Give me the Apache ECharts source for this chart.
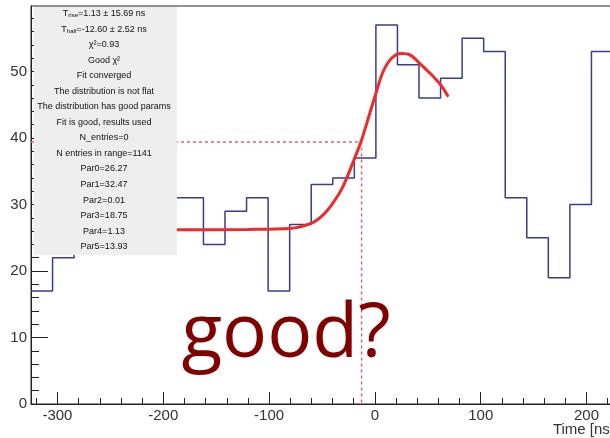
<!DOCTYPE html>
<html><head><meta charset="utf-8">
<script src="https://cdn.jsdelivr.net/npm/echarts@6/dist/echarts.min.js"></script>
<style>html,body{margin:0;padding:0;background:#fff}#c{width:610px;height:438px}</style>
</head><body><div id="c"></div>
<script>
// ---- data ----
const histLow = -325, histHigh = 225;
const binCounts = [17,22,27,25,29,26,31,31,24,29,31,17,27,33,34,37,57,51,46,49,55,53,31,25,19,30,53];
const fitTime  = [-300,-250,-185,-120,-80.3,-59.8,-49.1,-39.7,-30.2,-19.8,-12.6,-4.7,0.9,7.8,15.8,25.2,33.1,42.5,53.6,63.0,69.3];
const fitValue = [26.2,26.2,26.2,26.25,26.4,27.2,28.4,30.2,32.7,36.7,39.7,43.8,46.7,50.0,52.0,52.7,52.5,51.2,49.5,47.8,46.2];
const tHalf = -12.6, halfLevel = 39.4;
const xMajorTicks = [-300,-200,-100,0,100,200];
const yMajorTicks = [0,10,20,30,40,50];
const yMax = 59.85;
const statLines = [
  '{n|T}{s|rise}{n|=1.13 ± 15.69 ns}',
  '{n|T}{s|half}{n|=-12.60 ± 2.52 ns}',
  'χ²=0.93',
  'Good χ²',
  'Fit converged',
  'The distribution is not flat',
  'The distribution has good params',
  'Fit is good, results used',
  'N_entries=0',
  'N entries in range=1141',
  'Par0=26.27',
  'Par1=32.47',
  'Par2=0.01',
  'Par3=18.75',
  'Par4=1.13',
  'Par5=13.93'
];
const annotation = 'good?';
const xTitle = 'Time [ns]';

// ---- build ----
const nBins = binCounts.length;
const bw = (histHigh - histLow) / nBins;
const histData = binCounts.map((c, i) => [histLow + i * bw, c]);
histData.push([histHigh, binCounts[nBins - 1]]);
const fitData = fitTime.map((t, i) => [t, fitValue[i]]);
const xMinor = []; for (let v = -320; v <= 220; v += 20) xMinor.push(v);
const yMinor = []; for (let v = 0; v <= 58; v += 2) yMinor.push(v);

const axisCol = '#222';
const lblFont = {color: '#333', fontSize: 15, fontFamily: 'Liberation Sans'};

const graphics = [{
  type: 'rect', z: 100, shape: {x: 34, y: 7, width: 143, height: 248},
  style: {fill: '#eeeeee'}
}];
statLines.forEach((s, i) => {
  graphics.push({
    type: 'text', z: 101, x: 104, y: 13.5 + 15.55 * i,
    style: {
      text: s, fill: '#111', fontSize: 9, fontFamily: 'Liberation Sans',
      align: 'center', verticalAlign: 'middle', textAlign: 'center', textVerticalAlign: 'middle',
      rich: {
        n: {fontSize: 9, fontFamily: 'Liberation Sans', fill: '#111', lineHeight: 10},
        s: {fontSize: 6, fontFamily: 'Liberation Sans', fill: '#111', lineHeight: 6, padding: [4, 0, 0, 0]}
      }
    }
  });
});
graphics.push({
  type: 'text', z: 102, x: 286, y: 336,
  style: {text: annotation, fill: '#800000', fontSize: 75, fontFamily: 'Open Sans',
    align: 'center', verticalAlign: 'middle', textAlign: 'center', textVerticalAlign: 'middle'}
});
graphics.push({
  type: 'text', z: 102, x: 614, y: 430,
  style: {text: xTitle, fill: '#333', fontSize: 15, fontFamily: 'Liberation Sans',
    align: 'right', verticalAlign: 'middle', textAlign: 'right', textVerticalAlign: 'middle'}
});

const chart = echarts.init(document.getElementById('c'), null, {renderer: 'canvas'});
chart.setOption({
  animation: false,
  backgroundColor: '#ffffff',
  grid: {left: 31, right: -3, top: 6, bottom: 34, show: true, borderColor: axisCol, borderWidth: 1,
    containLabel: false, outerBoundsMode: 'none'},
  xAxis: [{
    type: 'value', min: histLow, max: histHigh, position: 'bottom',
    axisLine: {show: true, onZero: false, lineStyle: {color: axisCol, width: 1}},
    axisTick: {show: true, inside: true, length: 12, customValues: xMajorTicks, lineStyle: {color: axisCol}},
    axisLabel: Object.assign({customValues: xMajorTicks, margin: 4}, lblFont),
    splitLine: {show: false}
  }, {
    type: 'value', min: histLow, max: histHigh, position: 'bottom',
    axisLine: {show: false, onZero: false},
    axisTick: {show: true, inside: true, length: 6, customValues: xMinor, lineStyle: {color: axisCol}},
    axisLabel: {show: false}, splitLine: {show: false}
  }],
  yAxis: [{
    type: 'value', min: 0, max: yMax, position: 'left',
    axisLine: {show: true, onZero: false, lineStyle: {color: axisCol, width: 1}},
    axisTick: {show: true, inside: true, length: 17, customValues: yMajorTicks, lineStyle: {color: axisCol}},
    axisLabel: Object.assign({customValues: yMajorTicks, margin: 4}, lblFont),
    splitLine: {show: false}
  }, {
    type: 'value', min: 0, max: yMax, position: 'left',
    axisLine: {show: false, onZero: false},
    axisTick: {show: true, inside: true, length: 8, customValues: yMinor, lineStyle: {color: axisCol}},
    axisLabel: {show: false}, splitLine: {show: false}
  }],
  series: [{
    type: 'line', xAxisIndex: 0, yAxisIndex: 0, step: 'end', symbol: 'none', data: histData,
    lineStyle: {color: '#3b3b8f', width: 1.5}, z: 3
  }, {
    type: 'line', xAxisIndex: 0, yAxisIndex: 0, symbol: 'none', data: [[histLow, halfLevel], [tHalf, halfLevel], [tHalf, 0]],
    lineStyle: {color: '#e4607a', width: 1.5, type: [3, 3]}, z: 3
  }, {
    type: 'line', xAxisIndex: 0, yAxisIndex: 0, symbol: 'none', smooth: 0.35, data: fitData,
    lineStyle: {color: '#ee2a2a', width: 3}, z: 4
  }],
  graphic: graphics
});
</script></body></html>
